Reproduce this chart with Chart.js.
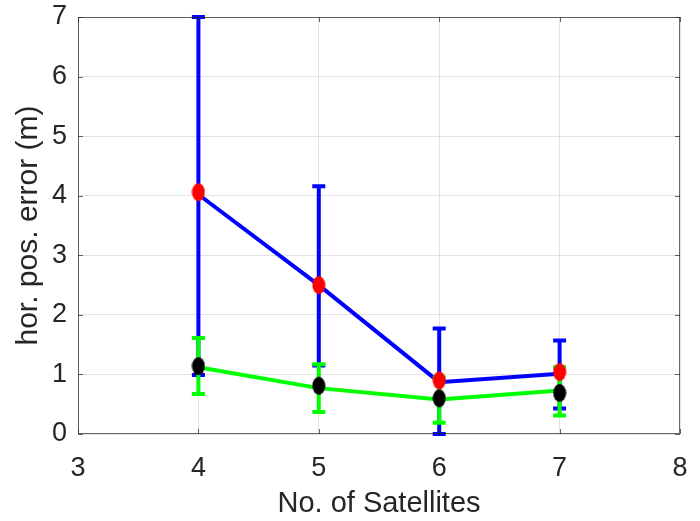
<!DOCTYPE html>
<html>
<head>
<meta charset="utf-8">
<script src="https://cdn.jsdelivr.net/npm/chart.js@4.4.1/dist/chart.umd.min.js"></script>
<style>
  html, body { margin: 0; padding: 0; background: #fff; }
  #wrap { width: 700px; height: 521px; }
</style>
</head>
<body>
<div id="wrap"><canvas id="chart"></canvas></div>
<script>
// No. of satellites
const satellites = [4, 5, 6, 7];

// blue series (red markers)
const blueLine = [4.02, 2.5, 0.87, 1.01];
const blueMarks = [4.06, 2.5, 0.9, 1.04];
const blueLow = [0.99, 1.15, 0.0, 0.43];
const blueHigh = [7.0, 4.16, 1.77, 1.57];

// green series (black markers)
const greenLine = [1.12, 0.77, 0.58, 0.73];
const greenMarks = [1.14, 0.81, 0.6, 0.69];
const greenLow = [0.67, 0.37, 0.19, 0.31];
const greenHigh = [1.61, 1.17, 0.95, 1.12];

const xTicks = [3, 4, 5, 6, 7, 8];
const yTicks = [0, 1, 2, 3, 4, 5, 6, 7];

const textColor = '#262626';
const font = 'Liberation Sans, Arial, Helvetica, sans-serif';

// ellipse shaped marker, like the matlab ones
function ellipse(color) {
    const c = document.createElement('canvas');
    c.width = 14;
    c.height = 20;
    const g = c.getContext('2d');
    g.fillStyle = color;
    g.beginPath();
    g.ellipse(7, 10, 6.5, 9, 0, 0, Math.PI * 2);
    g.fill();
    return c;
}

function pts(ys) {
    return satellites.map((x, i) => ({ x: x, y: ys[i] }));
}

// error bars drawn right after their own line
const errorBars = {
    id: 'errorBars',
    afterDatasetDraw(chart, args) {
        const ds = chart.data.datasets[args.index];
        if (!ds.errLow) return;
        const xs = chart.scales.x, ys = chart.scales.y;
        const ctx = chart.ctx;
        ctx.save();
        ctx.strokeStyle = ds.borderColor;
        ctx.lineWidth = 4;
        ctx.lineCap = 'butt';
        satellites.forEach((x, i) => {
            const px = xs.getPixelForValue(x);
            const lo = ys.getPixelForValue(ds.errLow[i]);
            const hi = ys.getPixelForValue(ds.errHigh[i]);
            ctx.beginPath();
            ctx.moveTo(px, lo);
            ctx.lineTo(px, hi);
            ctx.moveTo(px - 6.5, lo);
            ctx.lineTo(px + 6.5, lo);
            ctx.moveTo(px - 6.5, hi);
            ctx.lineTo(px + 6.5, hi);
            ctx.stroke();
        });
        ctx.restore();
    }
};

// axes box with inward ticks
const axesBox = {
    id: 'axesBox',
    afterDraw(chart) {
        const { ctx, chartArea: a, scales } = chart;
        ctx.save();
        ctx.strokeStyle = 'rgba(38,38,38,0.7)';
        ctx.lineWidth = 1;
        ctx.strokeRect(a.left + 0.5, a.top + 0.5, a.right - a.left - 1, a.bottom - a.top - 1);
        ctx.beginPath();
        xTicks.forEach(v => {
            const px = Math.round(scales.x.getPixelForValue(v)) + 0.5;
            ctx.moveTo(px, a.bottom);
            ctx.lineTo(px, a.bottom - 5);
            ctx.moveTo(px, a.top);
            ctx.lineTo(px, a.top + 5);
        });
        yTicks.forEach(v => {
            const py = Math.round(scales.y.getPixelForValue(v)) + 0.5;
            ctx.moveTo(a.left, py);
            ctx.lineTo(a.left + 5, py);
            ctx.moveTo(a.right, py);
            ctx.lineTo(a.right - 5, py);
        });
        ctx.stroke();
        ctx.restore();
    }
};

new Chart(document.getElementById('chart'), {
    type: 'scatter',
    data: {
        datasets: [
            {
                label: 'blue marks',
                data: pts(blueMarks),
                showLine: false,
                pointStyle: ellipse('#ff0000'),
                pointRadius: 6
            },
            {
                label: 'green marks',
                data: pts(greenMarks),
                showLine: false,
                pointStyle: ellipse('#000000'),
                pointRadius: 6
            },
            {
                label: 'green',
                data: pts(greenLine),
                showLine: true,
                borderColor: '#00ff00',
                borderWidth: 4,
                pointRadius: 0,
                errLow: greenLow,
                errHigh: greenHigh
            },
            {
                label: 'blue',
                data: pts(blueLine),
                showLine: true,
                borderColor: '#0000ff',
                borderWidth: 4,
                pointRadius: 0,
                errLow: blueLow,
                errHigh: blueHigh
            }
        ]
    },
    options: {
        responsive: true,
        maintainAspectRatio: false,
        animation: false,
        layout: { padding: { top: 17, right: 20, left: 0, bottom: 0 } },
        plugins: {
            legend: { display: false },
            tooltip: { enabled: false }
        },
        scales: {
            x: {
                type: 'linear',
                min: 3,
                max: 8,
                afterBuildTicks: s => { s.ticks = xTicks.map(v => ({ value: v })); },
                afterFit: s => { s.height = 87; s.paddingLeft = 0; s.paddingRight = 0; },
                grid: { color: 'rgba(38,38,38,0.13)', drawTicks: false },
                border: { display: false },
                ticks: {
                    padding: 18,
                    color: textColor,
                    font: { family: font, size: 27 }
                },
                title: {
                    display: true,
                    text: 'No. of Satellites',
                    color: textColor,
                    font: { family: font, size: 29 },
                    padding: { top: 0, bottom: 0 }
                }
            },
            y: {
                min: 0,
                max: 7,
                afterBuildTicks: s => { s.ticks = yTicks.map(v => ({ value: v })); },
                afterFit: s => { s.width = 78; s.paddingTop = 0; s.paddingBottom = 0; },
                grid: { color: 'rgba(38,38,38,0.13)', drawTicks: false },
                border: { display: false },
                ticks: {
                    padding: 11,
                    color: textColor,
                    font: { family: font, size: 27 }
                },
                title: {
                    display: true,
                    text: 'hor. pos. error (m)',
                    color: textColor,
                    font: { family: font, size: 30 },
                    padding: { top: 11, bottom: 0 }
                }
            }
        }
    },
    plugins: [errorBars, axesBox]
});
</script>
</body>
</html>
